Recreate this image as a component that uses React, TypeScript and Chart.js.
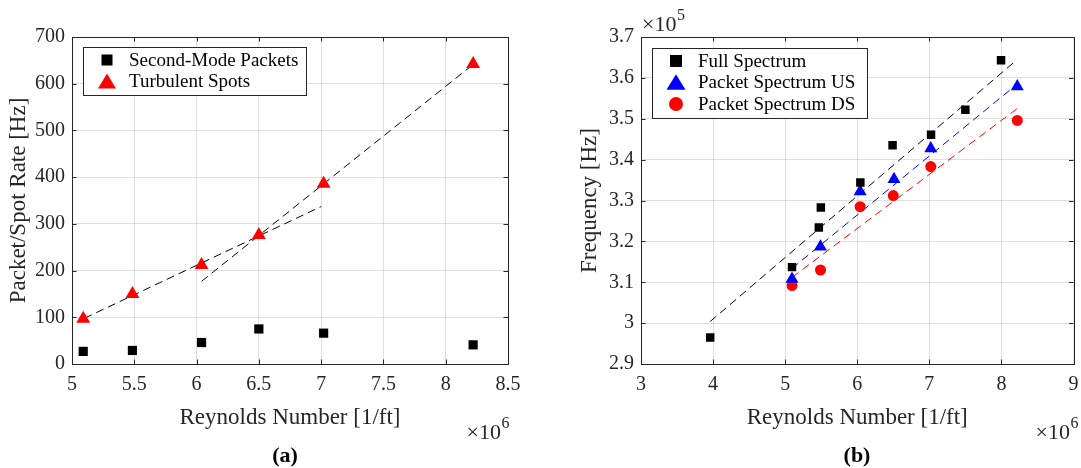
import React, { useEffect, useRef } from 'react';
import { Chart, registerables } from 'chart.js';

Chart.register(...registerables);

const SERIF = '"Liberation Serif", "Times New Roman", Times, serif';
const AXIS = '#262626';
const GRID = 'rgba(38,38,38,0.15)';

// ---------- (a) ----------
const reA = [5.09, 5.485, 6.04, 6.5, 7.02, 8.22];
const packetRate = [27, 29, 46, 75, 66, 41];
const spotRate = [97, 150, 212, 276, 386, 642];
const fitLowX = [5.1, 7.0];
const fitLowY = [98, 337];
const fitHighX = [6.04, 8.2];
const fitHighY = [177, 637];
const xTicksA = [5, 5.5, 6, 6.5, 7, 7.5, 8, 8.5];
const yTicksA = [0, 100, 200, 300, 400, 500, 600, 700];

// ---------- (b) ----------
const reFull = [3.96, 5.095, 5.467, 5.495, 6.043, 6.49, 7.024, 7.5, 7.995];
const freqFull = [2.965, 3.137, 3.234, 3.283, 3.344, 3.435, 3.461, 3.522, 3.643];
const reUS = [5.095, 5.49, 6.04, 6.51, 7.02, 8.22];
const freqUS = [3.108, 3.187, 3.322, 3.352, 3.427, 3.579];
const reDS = [5.095, 5.49, 6.04, 6.5, 7.02, 8.22];
const freqDS = [3.092, 3.13, 3.285, 3.312, 3.383, 3.496];
const fitFullX = [3.96, 8.18];
const fitFullY = [3.004, 3.639];
const fitUSX = [5.095, 8.2];
const fitUSY = [3.134, 3.582];
const fitDSX = [5.095, 8.22];
const fitDSY = [3.112, 3.525];
const xTicksB = [3, 4, 5, 6, 7, 8, 9];
const yTicksB = [2.9, 3.0, 3.1, 3.2, 3.3, 3.4, 3.5, 3.6, 3.7];

const pts = (xs: number[], ys: number[]) => xs.map((x, i) => ({ x, y: ys[i] }));
const fmt = (v: number) => String(Number(Number(v).toFixed(3)));

function drawMarker(ctx: CanvasRenderingContext2D, style: string, color: string, x: number, y: number, size: number) {
  ctx.fillStyle = color;
  ctx.beginPath();
  if (style === 'rect') {
    ctx.rect(x - size / 2, y - size / 2, size, size);
  } else if (style === 'triangle') {
    const h = size * 0.82;
    ctx.moveTo(x, y - h / 2);
    ctx.lineTo(x + size / 2, y + h / 2);
    ctx.lineTo(x - size / 2, y + h / 2);
    ctx.closePath();
  } else {
    ctx.arc(x, y, size / 2, 0, Math.PI * 2);
  }
  ctx.fill();
}

function drawMult(ctx: CanvasRenderingContext2D, exp: string, x: number, baseline: number, alignRight: boolean) {
  ctx.textAlign = 'left';
  ctx.textBaseline = 'alphabetic';
  ctx.fillStyle = AXIS;
  ctx.font = `22px ${SERIF}`;
  const base = '×10';
  const w1 = ctx.measureText(base).width;
  ctx.font = `16px ${SERIF}`;
  const w2 = ctx.measureText(exp).width;
  const x0 = alignRight ? x - w1 - w2 : x;
  ctx.font = `22px ${SERIF}`;
  ctx.fillText(base, x0, baseline);
  ctx.font = `16px ${SERIF}`;
  ctx.fillText(exp, x0 + w1 + 0.5, baseline - 11);
}

const matlabPlugin = {
  id: 'matlab',
  afterDraw(chart: any, _args: any, opts: any) {
    const { ctx, chartArea: a } = chart;
    const xs = chart.scales.x;
    const ys = chart.scales.y;
    const TL = 4.5;
    ctx.save();
    ctx.strokeStyle = AXIS;
    ctx.lineWidth = 1;
    ctx.beginPath();
    xs.ticks.forEach((t: any) => {
      const px = Math.round(xs.getPixelForValue(t.value)) + 0.5;
      ctx.moveTo(px, a.bottom);
      ctx.lineTo(px, a.bottom - TL);
      ctx.moveTo(px, a.top);
      ctx.lineTo(px, a.top + TL);
    });
    ys.ticks.forEach((t: any) => {
      const py = Math.round(ys.getPixelForValue(t.value)) + 0.5;
      ctx.moveTo(a.left, py);
      ctx.lineTo(a.left + TL, py);
      ctx.moveTo(a.right, py);
      ctx.lineTo(a.right - TL, py);
    });
    ctx.stroke();
    ctx.strokeRect(Math.round(a.left) + 0.5, Math.round(a.top) + 0.5, Math.round(a.right - a.left), Math.round(a.bottom - a.top));

    // legend
    const lg = opts.legend;
    if (lg) {
      ctx.fillStyle = '#ffffff';
      ctx.fillRect(lg.x, lg.y, lg.w, lg.h);
      ctx.strokeStyle = AXIS;
      ctx.strokeRect(lg.x + 0.5, lg.y + 0.5, lg.w, lg.h);
      const items = chart.data.datasets.filter((d: any) => !d.showLine);
      items.forEach((d: any, i: number) => {
        const y = lg.rows[i];
        drawMarker(ctx, d.pointStyle, d.backgroundColor, lg.markerX, y, lg.sizes[i]);
        ctx.fillStyle = '#000';
        ctx.font = `19px ${SERIF}`;
        ctx.textAlign = 'left';
        ctx.textBaseline = 'middle';
        ctx.fillText(d.label, lg.textX, y + 1);
      });
    }

    // multipliers
    (opts.mults || []).forEach((m: any) => drawMult(ctx, m.exp, m.x, m.y, m.right));

    // caption
    if (opts.caption) {
      ctx.fillStyle = '#000';
      ctx.font = `bold 22px ${SERIF}`;
      ctx.textAlign = 'center';
      ctx.textBaseline = 'alphabetic';
      ctx.fillText(opts.caption.text, opts.caption.x, opts.caption.y);
    }
    ctx.restore();
  },
};

function makeConfig(p: any) {
  const tickFont = { family: SERIF, size: 20 };
  const titleFont = { family: SERIF, size: 23 };
  return {
    type: 'scatter',
    data: { datasets: p.datasets },
    plugins: [matlabPlugin],
    options: {
      responsive: false,
      animation: false,
      devicePixelRatio: 1,
      layout: { padding: { top: 37, right: p.padRight, left: 0, bottom: 0 } },
      plugins: {
        legend: { display: false },
        tooltip: { enabled: false },
        matlab: p.extras,
      },
      scales: {
        x: {
          type: 'linear',
          min: p.xMin,
          max: p.xMax,
          afterBuildTicks: (s: any) => { s.ticks = p.xTicks.map((v: number) => ({ value: v })); },
          afterFit: (s: any) => { s.height = 104; s.paddingLeft = 0; s.paddingRight = 0; },
          ticks: { font: tickFont, color: AXIS, padding: 9, maxRotation: 0, autoSkip: false, callback: (v: number) => fmt(v) },
          grid: { color: GRID, drawTicks: false, lineWidth: 1 },
          border: { display: false },
          title: { display: true, text: 'Reynolds Number [1/ft]', font: titleFont, color: AXIS, padding: { top: 0, bottom: 36 } },
        },
        y: {
          type: 'linear',
          min: p.yMin,
          max: p.yMax,
          afterBuildTicks: (s: any) => { s.ticks = p.yTicks.map((v: number) => ({ value: v })); },
          afterFit: (s: any) => { s.width = p.yAxisWidth; s.paddingTop = 0; s.paddingBottom = 0; },
          ticks: { font: tickFont, color: AXIS, padding: 7, autoSkip: false, callback: (v: number) => fmt(v) },
          grid: { color: GRID, drawTicks: false, lineWidth: 1 },
          border: { display: false },
          title: { display: true, text: p.yTitle, font: titleFont, color: AXIS, padding: { top: p.yTitlePad, bottom: 0 } },
        },
      },
    },
  };
}

const fitLine = (label: string, data: any, color: string) => ({
  label, data, showLine: true, borderColor: color, backgroundColor: color,
  borderWidth: 1, borderDash: [8, 5], pointRadius: 0, order: 2,
});

const configA = makeConfig({
  xMin: 5, xMax: 8.5, yMin: 0, yMax: 700, xTicks: xTicksA, yTicks: yTicksA,
  yTitle: 'Packet/Spot Rate [Hz]', yTitlePad: 5, yAxisWidth: 72, padRight: 32,
  datasets: [
    { label: 'Second-Mode Packets', data: pts(reA, packetRate), pointStyle: 'rect', pointRadius: 6.5, backgroundColor: '#000000', borderWidth: 0, order: 0 },
    { label: 'Turbulent Spots', data: pts(reA, spotRate), pointStyle: 'triangle', pointRadius: 8, backgroundColor: '#ff0000', borderWidth: 0, order: 0 },
    fitLine('fit low', pts(fitLowX, fitLowY), '#000000'),
    fitLine('fit high', pts(fitHighX, fitHighY), '#000000'),
  ],
  extras: {
    legend: { x: 83, y: 47, w: 223, h: 48, rows: [60, 81], markerX: 107, textX: 129, sizes: [11, 18] },
    mults: [{ exp: '6', x: 509, y: 439, right: true }],
    caption: { text: '(a)', x: 285, y: 462 },
  },
});

const configB = makeConfig({
  xMin: 3, xMax: 9, yMin: 2.9, yMax: 3.7, xTicks: xTicksB, yTicks: yTicksB,
  yTitle: 'Frequency [Hz]', yTitlePad: 36, yAxisWidth: 101, padRight: 4,
  datasets: [
    { label: 'Full Spectrum', data: pts(reFull, freqFull), pointStyle: 'rect', pointRadius: 6, backgroundColor: '#000000', borderWidth: 0, order: 0 },
    { label: 'Packet Spectrum US', data: pts(reUS, freqUS), pointStyle: 'triangle', pointRadius: 7.5, backgroundColor: '#0000ff', borderWidth: 0, order: 0 },
    { label: 'Packet Spectrum DS', data: pts(reDS, freqDS), pointStyle: 'circle', pointRadius: 5.5, backgroundColor: '#ff0000', borderWidth: 0, order: 0 },
    fitLine('fit full', pts(fitFullX, fitFullY), '#000000'),
    fitLine('fit US', pts(fitUSX, fitUSY), '#0000ff'),
    fitLine('fit DS', pts(fitDSX, fitDSY), '#ff0000'),
  ],
  extras: {
    legend: { x: 112, y: 48, w: 215, h: 70, rows: [61, 82, 104], markerX: 136, textX: 158, sizes: [12, 19, 14] },
    mults: [{ exp: '6', x: 538, y: 439, right: true }, { exp: '5', x: 102, y: 31, right: false }],
    caption: { text: '(b)', x: 317, y: 462 },
  },
});

function ChartCanvas({ config, left, width }: { config: any; left: number; width: number }) {
  const ref = useRef<HTMLCanvasElement | null>(null);
  useEffect(() => {
    const chart = new Chart(ref.current as HTMLCanvasElement, config);
    return () => chart.destroy();
  }, [config]);
  return (
    <canvas
      ref={ref}
      width={width}
      height={468}
      style={{ position: 'absolute', left, top: 0, width, height: 468, display: 'block' }}
    />
  );
}

export default function App() {
  return (
    <div style={{ position: 'absolute', left: 0, top: 0, width: 1081, height: 468, background: '#ffffff', overflow: 'hidden' }}>
      <ChartCanvas config={configA} left={0} width={540} />
      <ChartCanvas config={configB} left={540} width={541} />
    </div>
  );
}
